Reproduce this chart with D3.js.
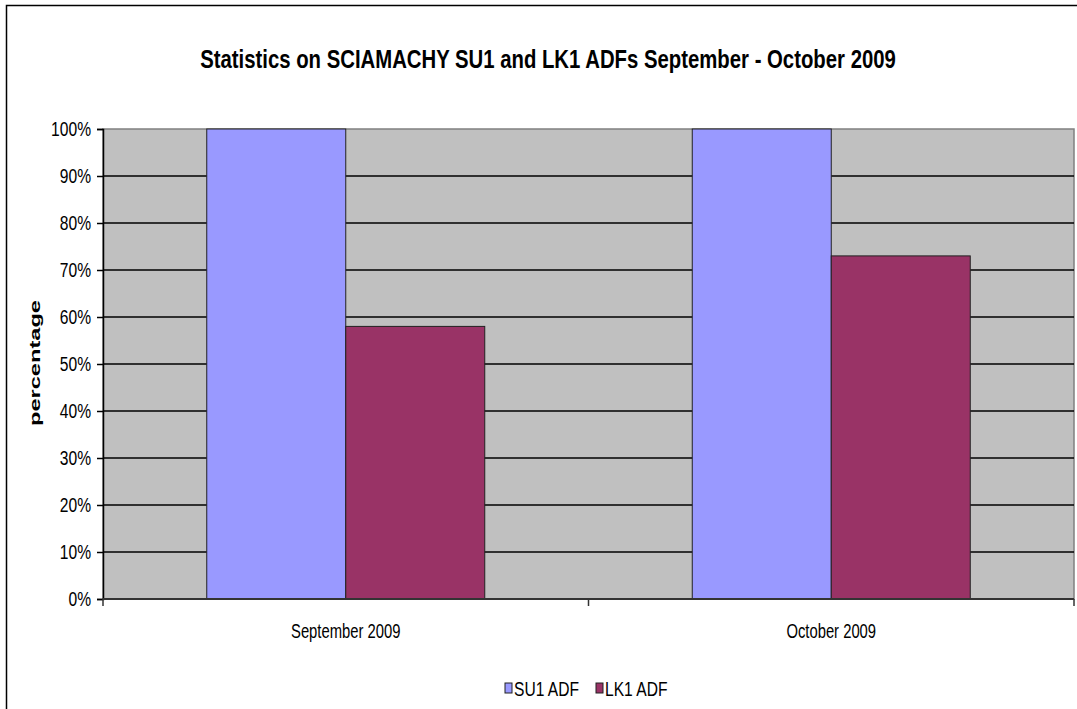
<!doctype html>
<html lang="en">
<head>
    <meta charset="utf-8">
    <title>SCIAMACHY ADF statistics</title>
    <script src="https://cdnjs.cloudflare.com/ajax/libs/d3/7.8.5/d3.min.js"></script>
    <style>
        body { margin: 0; background: #fff; }
        #chart text { fill: #000; }
        .narrow { font-family: "Liberation Sans Narrow", "Arial Narrow", "Liberation Sans", sans-serif; }
    </style>
</head>
<body>
    <div id="chart"></div>
    <script>
        // data
        var categories = ["September 2009", "October 2009"];
        var seriesNames = ["SU1 ADF", "LK1 ADF"];
        var su1Values = [100, 100];
        var lk1Values = [58, 73];
        var yTicks = [0, 10, 20, 30, 40, 50, 60, 70, 80, 90, 100];
        var seriesColors = ["#9999ff", "#993366"];

        var width = 1077, height = 709;
        var plot = { left: 103, top: 129, right: 1074, bottom: 599 };

        // no narrow font installed, so squeeze the text a bit
        function squeeze(sel, factor) {
            sel.each(function() {
                var w = this.getComputedTextLength();
                d3.select(this)
                    .attr("textLength", w * factor)
                    .attr("lengthAdjust", "spacingAndGlyphs");
            });
        }

        var svg = d3.select("#chart")
            .append("svg")
            .attr("width", width)
            .attr("height", height);

        // outer chart border
        svg.append("rect")
            .attr("x", 6.5).attr("y", 5.5)
            .attr("width", 1075).attr("height", 720)
            .attr("fill", "#fff")
            .attr("stroke", "#000")
            .attr("stroke-width", 1.5);

        var y = d3.scaleLinear().domain([0, 100]).range([plot.bottom, plot.top]);

        // band scale for the categories, inner one for the two series
        var pad = 1 - 278 / 485.5;
        var x0 = d3.scaleBand()
            .domain(categories)
            .range([plot.left, plot.right])
            .paddingInner(pad)
            .paddingOuter(pad / 2);
        var x1 = d3.scaleBand()
            .domain(seriesNames)
            .range([0, x0.bandwidth()]);

        // plot background
        svg.append("rect")
            .attr("x", plot.left).attr("y", plot.top)
            .attr("width", plot.right - plot.left)
            .attr("height", plot.bottom - plot.top)
            .attr("fill", "#c0c0c0")
            .attr("stroke", "#808080")
            .attr("stroke-width", 1.5);

        // grid lines
        svg.append("g")
            .selectAll("line")
            .data(yTicks.filter(function(d) { return d > 0 && d < 100; }))
            .enter()
            .append("line")
            .attr("x1", plot.left).attr("x2", plot.right)
            .attr("y1", function(d) { return y(d); })
            .attr("y2", function(d) { return y(d); })
            .attr("stroke", "#000")
            .attr("stroke-width", 1.5);

        // bars
        var rows = categories.map(function(c, i) {
            return [
                { cat: c, key: seriesNames[0], value: su1Values[i], color: seriesColors[0] },
                { cat: c, key: seriesNames[1], value: lk1Values[i], color: seriesColors[1] }
            ];
        });

        svg.append("g")
            .selectAll("g")
            .data(rows)
            .enter()
            .append("g")
            .attr("transform", function(d) { return "translate(" + x0(d[0].cat) + ",0)"; })
            .selectAll("rect")
            .data(function(d) { return d; })
            .enter()
            .append("rect")
            .attr("x", function(d) { return x1(d.key); })
            .attr("y", function(d) { return y(d.value); })
            .attr("width", x1.bandwidth())
            .attr("height", function(d) { return y(0) - y(d.value); })
            .attr("fill", function(d) { return d.color; })
            .attr("stroke", "#222")
            .attr("stroke-width", 1);

        // y axis
        var yAxis = svg.append("g")
            .attr("transform", "translate(" + plot.left + ",0)")
            .call(d3.axisLeft(y).tickValues(yTicks).tickSize(6).tickPadding(6)
                .tickFormat(function(d) { return d + "%"; }));
        yAxis.select(".domain").attr("stroke", "#000").attr("stroke-width", 1.5);
        yAxis.selectAll(".tick line").attr("stroke", "#000").attr("stroke-width", 1.5);
        yAxis.selectAll("text")
            .attr("class", "narrow")
            .style("font-size", "20px")
            .attr("fill", "#222")
            .call(squeeze, 0.78);

        // x axis with ticks between categories
        var xEdges = d3.scaleLinear().domain([0, categories.length]).range([plot.left, plot.right]);
        var xAxis = svg.append("g")
            .attr("transform", "translate(0," + plot.bottom + ")");
        xAxis.append("line")
            .attr("x1", plot.left).attr("x2", plot.right)
            .attr("stroke", "#333").attr("stroke-width", 2);
        xAxis.selectAll("line.tk")
            .data(d3.range(categories.length + 1))
            .enter()
            .append("line")
            .attr("class", "tk")
            .attr("x1", function(d) { return xEdges(d); })
            .attr("x2", function(d) { return xEdges(d); })
            .attr("y1", 0).attr("y2", 7)
            .attr("stroke", "#333").attr("stroke-width", 1.5);
        xAxis.selectAll("text")
            .data(categories)
            .enter()
            .append("text")
            .attr("class", "narrow")
            .attr("x", function(d) { return x0(d) + x0.bandwidth() / 2; })
            .attr("y", 39)
            .attr("text-anchor", "middle")
            .attr("fill", "#222")
            .style("font-size", "20px")
            .text(function(d) { return d; })
            .call(squeeze, 0.74);

        // title, scaled horizontally to the reference width
        var title = svg.append("text")
            .attr("class", "narrow")
            .attr("text-anchor", "middle")
            .style("font-size", "26px")
            .style("font-weight", "bold")
            .text("Statistics on SCIAMACHY SU1 and LK1 ADFs September - October 2009");
        var tw = title.node().getComputedTextLength();
        title.attr("transform", "translate(548,68) scale(" + (696 / tw) + ",1)");

        // y axis title
        svg.append("text")
            .attr("transform", "translate(40,363) rotate(-90)")
            .attr("text-anchor", "middle")
            .attr("textLength", 126)
            .attr("lengthAdjust", "spacingAndGlyphs")
            .style("font-family", "Liberation Sans, Arial, sans-serif")
            .style("font-size", "15px")
            .style("font-weight", "bold")
            .text("percentage");

        // legend
        var legendX = [505, 596];
        var legend = svg.append("g")
            .selectAll("g")
            .data(seriesNames)
            .enter()
            .append("g")
            .attr("transform", function(d, i) { return "translate(" + legendX[i] + ",683)"; });
        legend.append("rect")
            .attr("width", 7).attr("height", 10)
            .attr("fill", function(d, i) { return seriesColors[i]; })
            .attr("stroke", "#222");
        legend.append("text")
            .attr("class", "narrow")
            .attr("x", 9).attr("y", 13)
            .attr("fill", "#222")
            .style("font-size", "20px")
            .text(function(d) { return d; })
            .call(squeeze, 0.78);
    </script>
</body>
</html>
